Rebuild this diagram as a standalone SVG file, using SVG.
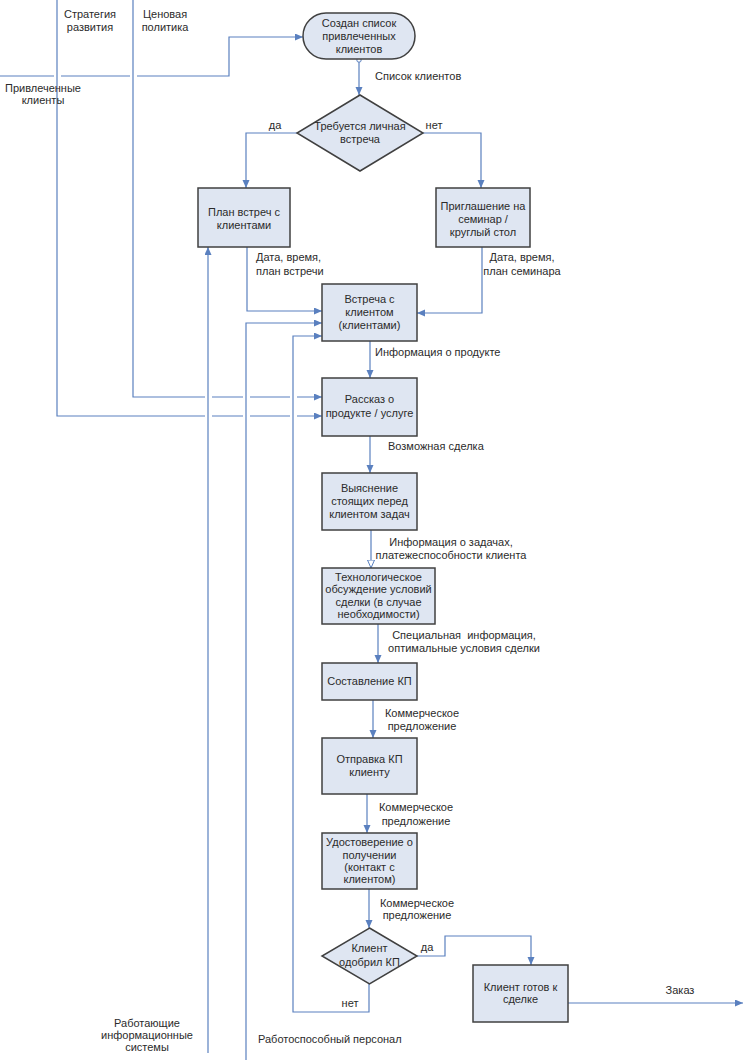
<svg xmlns="http://www.w3.org/2000/svg" width="744" height="1060" viewBox="0 0 744 1060">
<style>
text{font-family:"Liberation Sans",Arial,sans-serif;font-size:11px;fill:#2b2b2b}
.c{text-anchor:middle}
.box{fill:#dfe6f2;stroke:#404040;stroke-width:1.5}
.ln{fill:none;stroke:#5a80bf;stroke-width:1.2}
.a{marker-end:url(#arr)}
</style>
<defs>
<marker id="arr" markerWidth="9" markerHeight="8" refX="8" refY="3.5" orient="auto" markerUnits="userSpaceOnUse"><path d="M0,0 L8,3.5 L0,7 z" fill="#5a80bf"/></marker>
<marker id="harr" markerWidth="10" markerHeight="9" refX="8.5" refY="4" orient="auto" markerUnits="userSpaceOnUse"><path d="M0.5,0.5 L8.5,4 L0.5,7.5 z" fill="#fff" stroke="#5a80bf" stroke-width="1"/></marker>
</defs>
<rect width="744" height="1060" fill="#fff"/>
<g id="connectors">
<path class="ln a" d="M0,76 H54 M61,76 H130 M137,76 H229 V37 H303"/>
<path class="ln a" d="M359,62 V95"/>
<path class="ln a" d="M297,133 H246 V188"/>
<path class="ln a" d="M423,133 H481 V188"/>
<path class="ln a" d="M247,247 V311 H322"/>
<path class="ln a" d="M482,247 V313 H417"/>
<path class="ln a" d="M246,1060 V323 H322"/>
<path class="ln a" d="M208,1053 V247"/>
<path class="ln a" d="M369,984 V1012 H293 V336 H322"/>
<path class="ln a" d="M370,341 V378"/>
<path class="ln a" d="M57,0 V416 H205 M212,416 H243 M250,416 H290 M297,416 H322"/>
<path class="ln a" d="M133,0 V397 H205 M212,397 H243 M250,397 H290 M297,397 H322"/>
<path class="ln a" d="M370,436 V473"/>
<path class="ln" marker-end="url(#harr)" d="M371,530 V568"/>
<path class="ln a" d="M378,624 V663"/>
<path class="ln a" d="M373,700 V738"/>
<path class="ln a" d="M367,794 V833"/>
<path class="ln a" d="M369,889 V928"/>
<path class="ln a" d="M417,956 H445 V936 H531 V965"/>
<path class="ln a" d="M568,1003 H743"/>
<circle cx="359" cy="60" r="2.2" fill="#fff" stroke="#5a80bf" stroke-width="1"/>
</g>
<g id="labels">
<text class="c" x="90" y="18">Стратегия</text>
<text class="c" x="90" y="31">развития</text>
<text class="c" x="165" y="18">Ценовая</text>
<text class="c" x="165" y="31">политика</text>
<text class="c" x="43" y="92">Привлеченные</text>
<text class="c" x="43" y="104">клиенты</text>
<text x="375" y="80">Список клиентов</text>
<text class="c" x="275" y="129">да</text>
<text class="c" x="434" y="129">нет</text>
<text x="256" y="261">Дата, время,</text>
<text x="256" y="275">план встречи</text>
<text class="c" x="522" y="261">Дата, время,</text>
<text class="c" x="522" y="275">план семинара</text>
<text x="375" y="356">Информация о продукте</text>
<text x="388" y="450">Возможная сделка</text>
<text class="c" x="451" y="546">Информация о задачах,</text>
<text class="c" x="451" y="559">платежеспособности клиента</text>
<text class="c" x="464" y="639">Специальная&#160; информация,</text>
<text class="c" x="464" y="652">оптимальные условия сделки</text>
<text class="c" x="422" y="717">Коммерческое</text>
<text class="c" x="422" y="730">предложение</text>
<text class="c" x="416" y="811">Коммерческое</text>
<text class="c" x="416" y="825">предложение</text>
<text class="c" x="417" y="907">Коммерческое</text>
<text class="c" x="417" y="919">предложение</text>
<text class="c" x="427" y="951">да</text>
<text class="c" x="350" y="1007">нет</text>
<text class="c" x="680" y="994">Заказ</text>
<text class="c" x="147" y="1027">Работающие</text>
<text class="c" x="147" y="1039">информационные</text>
<text class="c" x="147" y="1051">системы</text>
<text x="258" y="1043">Работоспособный персонал</text>
</g>
<g id="start">
<rect class="box" x="303" y="13" width="112" height="46" rx="23"/>
<text class="c" x="359" y="27">Создан список</text>
<text class="c" x="359" y="40">привлеченных</text>
<text class="c" x="359" y="53">клиентов</text>
</g>
<g id="decision1">
<path class="box" d="M360,95 L423,133 L360,171 L297,133 Z"/>
<text class="c" x="360" y="130">Требуется личная</text>
<text class="c" x="360" y="143">встреча</text>
</g>
<g id="plan">
<rect class="box" x="198" y="188" width="92" height="59"/>
<text class="c" x="244" y="216">План встреч с</text>
<text class="c" x="244" y="229">клиентами</text>
</g>
<g id="invite">
<rect class="box" x="436" y="188" width="94" height="59"/>
<text class="c" x="483" y="210">Приглашение на</text>
<text class="c" x="483" y="223">семинар /</text>
<text class="c" x="483" y="236">круглый стол</text>
</g>
<g id="meeting">
<rect class="box" x="322" y="284" width="95" height="57"/>
<text class="c" x="369.5" y="303">Встреча с</text>
<text class="c" x="369.5" y="316">клиентом</text>
<text class="c" x="369.5" y="329">(клиентами)</text>
</g>
<g id="story">
<rect class="box" x="322" y="378" width="95" height="58"/>
<text class="c" x="369.5" y="403">Рассказ о</text>
<text class="c" x="369.5" y="417">продукте / услуге</text>
</g>
<g id="tasks">
<rect class="box" x="322" y="473" width="95" height="57"/>
<text class="c" x="369.5" y="492">Выяснение</text>
<text class="c" x="369.5" y="505">стоящих перед</text>
<text class="c" x="369.5" y="518">клиентом задач</text>
</g>
<g id="tech">
<rect class="box" x="322" y="568" width="113" height="56"/>
<text class="c" x="378.5" y="581">Технологическое</text>
<text class="c" x="378.5" y="593">обсуждение условий</text>
<text class="c" x="378.5" y="606">сделки (в случае</text>
<text class="c" x="378.5" y="618">необходимости)</text>
</g>
<g id="compose">
<rect class="box" x="322" y="663" width="95" height="37"/>
<text class="c" x="369.5" y="685">Составление КП</text>
</g>
<g id="send">
<rect class="box" x="322" y="738" width="95" height="56"/>
<text class="c" x="369.5" y="763">Отправка КП</text>
<text class="c" x="369.5" y="776">клиенту</text>
</g>
<g id="confirm">
<rect class="box" x="322" y="833" width="95" height="56"/>
<text class="c" x="369.5" y="846">Удостоверение о</text>
<text class="c" x="369.5" y="859">получении</text>
<text class="c" x="369.5" y="871">(контакт с</text>
<text class="c" x="369.5" y="883">клиентом)</text>
</g>
<g id="decision2">
<path class="box" d="M369.5,928 L417,956 L369.5,984 L322,956 Z"/>
<text class="c" x="369.5" y="952">Клиент</text>
<text class="c" x="369.5" y="966">одобрил КП</text>
</g>
<g id="ready">
<rect class="box" x="473" y="965" width="95" height="57"/>
<text class="c" x="520.5" y="991">Клиент готов к</text>
<text class="c" x="520.5" y="1003">сделке</text>
</g>
</svg>
